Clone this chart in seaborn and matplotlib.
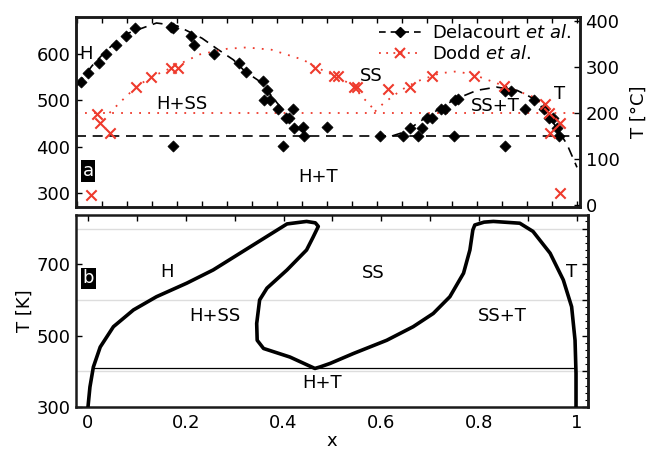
import matplotlib
matplotlib.use("Agg")
import matplotlib.pyplot as plt
from matplotlib.lines import Line2D
from matplotlib.ticker import MultipleLocator
import numpy as np
import pandas as pd
import seaborn as sns

# ---------------- data ----------------
# Panel a: Delacourt et al. measurements (x, T in K)
del_x = [0.008, 0.021, 0.043, 0.057, 0.077, 0.098, 0.115, 0.187, 0.191, 0.227,
         0.233, 0.274, 0.324, 0.338, 0.371, 0.379, 0.374, 0.385, 0.401, 0.417,
         0.423, 0.431, 0.433, 0.451, 0.454, 0.411, 0.191, 0.500, 0.605, 0.651,
         0.666, 0.681, 0.689, 0.699, 0.709, 0.727, 0.736, 0.756, 0.761, 0.753,
         0.856, 0.867, 0.856, 0.896, 0.913, 0.934, 0.943, 0.951, 0.959, 0.963]
del_T = [540, 560, 582, 600, 620, 640, 658, 660, 657, 640,
         620, 600, 581, 561, 542, 523, 501, 501, 481, 462,
         462, 481, 441, 443, 422, 401, 401, 442, 422, 422,
         441, 422, 441, 462, 462, 481, 481, 501, 503, 422,
         521, 521, 401, 481, 501, 481, 462, 462, 441, 422]

# Delacourt et al. boundary curves (dashed)
del_left_x = [0.0, 0.03, 0.06, 0.10, 0.159, 0.20, 0.25, 0.28, 0.313, 0.336, 0.366, 0.40, 0.43, 0.446, 0.46]
del_left_T = [532, 575, 610, 645, 668, 662, 635, 612, 588, 563, 541, 495, 455, 436, 423]
del_right_x = [0.63, 0.656, 0.70, 0.753, 0.80, 0.839, 0.88, 0.919, 0.953, 0.98, 1.0]
del_right_T = [423, 432, 465, 501, 522, 529, 522, 501, 451, 405, 355]
del_eutectoid_T = 423

# Dodd et al. measurements
dodd_x = [0.039, 0.045, 0.065, 0.118, 0.147, 0.187, 0.201, 0.476, 0.513, 0.522,
          0.553, 0.559, 0.621, 0.665, 0.709, 0.793, 0.853, 0.936, 0.943, 0.946,
          0.965, 0.028, 0.966]
dodd_T = [470, 451, 429, 529, 550, 570, 570, 570, 552, 552,
          530, 529, 524, 530, 552, 552, 532, 493, 472, 429,
          451, 295, 299]

# Dodd et al. boundary curves (dotted)
dodd_left_x = [0.065, 0.09, 0.118, 0.147, 0.187, 0.246, 0.30, 0.339, 0.389, 0.453, 0.476, 0.519, 0.556, 0.569, 0.583, 0.596]
dodd_left_T = [473, 500, 529, 550, 570, 600, 612, 615, 610, 588, 573, 552, 530, 508, 495, 476]
dodd_right_x = [0.596, 0.613, 0.649, 0.679, 0.726, 0.759, 0.793, 0.853, 0.912, 0.933, 0.948]
dodd_right_T = [476, 494, 523, 541, 559, 563, 556, 532, 508, 490, 473]
dodd_eutectoid_T = 473

# Panel b: computed phase diagram boundary (one continuous path)
calc_x = [0.0, 0.004, 0.011, 0.025, 0.052, 0.093, 0.14, 0.202, 0.256, 0.311,
          0.366, 0.407, 0.447, 0.465, 0.471, 0.46, 0.447, 0.407, 0.366, 0.351,
          0.345, 0.346, 0.359, 0.413, 0.464, 0.474, 0.495, 0.543, 0.611, 0.665,
          0.706, 0.74, 0.768, 0.781, 0.787, 0.791, 0.81, 0.829, 0.883, 0.91,
          0.945, 0.972, 0.989, 0.996, 0.998, 0.998]
calc_T = [300, 356, 412, 468, 525, 572, 609, 647, 684, 731,
          778, 813, 820, 816, 806, 775, 740, 684, 633, 600,
          534, 487, 464, 440, 408, 412, 422, 450, 487, 525,
          562, 609, 675, 740, 796, 810, 818, 820, 815, 792,
          731, 656, 581, 487, 394, 300]
calc_eut_x = [0.011, 0.997]
calc_eut_T = [408, 408]

labels_a = ["H", "H+SS", "H+T", "SS", "SS+T", "T"]
labels_a_x = [0.018, 0.209, 0.482, 0.588, 0.836, 0.966]
labels_a_T = [600, 493, 335, 554, 489, 513]
labels_b = ["H", "H+SS", "H+T", "SS", "SS+T", "T"]
labels_b_x = [0.161, 0.26, 0.478, 0.583, 0.848, 0.988]
labels_b_T = [677, 555, 368, 675, 556, 677]

# ---------------- styling ----------------
sns.set_style("ticks")
plt.rcParams['font.family'] = ['DejaVu Sans']
plt.rcParams['font.size'] = 13
plt.rcParams['axes.linewidth'] = 1.8
plt.rcParams['axes.edgecolor'] = '#1a1a1a'
plt.rcParams['text.color'] = 'black'
plt.rcParams['axes.labelcolor'] = 'black'
plt.rcParams['xtick.color'] = 'black'
plt.rcParams['ytick.color'] = 'black'

RED = '#ee3a2c'
FS = 13

fig = plt.figure(figsize=(6.49, 4.51), dpi=100)
W, H = 649, 451
axa = fig.add_axes([76 / W, 1 - 207 / H, (580 - 76) / W, (207 - 17) / H])
axb = fig.add_axes([76 / W, 1 - 407 / H, (588 - 76) / W, (407 - 215) / H])

# ---------------- panel a ----------------
sns.lineplot(x=del_left_x, y=del_left_T, ax=axa, color='black', lw=1.2,
             linestyle=(0, (6, 4)), sort=False, estimator=None)
sns.lineplot(x=del_right_x, y=del_right_T, ax=axa, color='black', lw=1.2,
             linestyle=(0, (6, 4)), sort=False, estimator=None)
axa.axhline(del_eutectoid_T, color='black', lw=1.2, linestyle=(0, (6, 4)))
sns.lineplot(x=dodd_left_x, y=dodd_left_T, ax=axa, color=RED, lw=1.3,
             linestyle=(0, (1, 4)), sort=False, estimator=None)
sns.lineplot(x=dodd_right_x, y=dodd_right_T, ax=axa, color=RED, lw=1.3,
             linestyle=(0, (1, 4)), sort=False, estimator=None)
axa.axhline(dodd_eutectoid_T, color=RED, lw=1.3, linestyle=(0, (1, 4)))

sns.scatterplot(x=del_x, y=del_T, ax=axa, marker='D', s=32, color='black',
                edgecolor='black', linewidth=0.5, zorder=4)
sns.scatterplot(x=dodd_x, y=dodd_T, ax=axa, marker='x', s=55, color=RED,
                linewidth=1.5, zorder=5)

axa.set_xlim(-0.002, 1.006)
axa.set_ylim(269, 681)
axa.set_yticks([300, 400, 500, 600])
axa.xaxis.set_major_locator(MultipleLocator(0.05))
axa.tick_params(axis='x', which='both', top=True, bottom=True, direction='in',
                labelbottom=False, length=4, width=1)
axa.tick_params(axis='y', direction='in', length=4, width=1, labelsize=FS, pad=4)
axa.set_xlabel('')

for t, x, y in zip(labels_a, labels_a_x, labels_a_T):
    axa.text(x, y, t, ha='center', va='center', fontsize=FS)
axa.text(0.022, 347, 'a', ha='center', va='center', fontsize=FS, color='white',
         bbox=dict(facecolor='black', edgecolor='none', pad=1.2))

axa2 = axa.twinx()
axa2.set_ylim(269 - 273.15, 681 - 273.15)
axa2.set_yticks([0, 100, 200, 300, 400])
axa2.tick_params(axis='y', direction='in', length=4, width=1, labelsize=FS, pad=4)
axa2.set_ylabel('T [°C]', fontsize=FS, labelpad=7)
for s in axa2.spines.values():
    s.set_linewidth(1.8)

handles = [Line2D([], [], color='black', linestyle=(0, (4, 3)), lw=1.2, marker='D', markersize=5),
           Line2D([], [], color=RED, linestyle=(0, (1, 3)), lw=1.3, marker='x', markersize=7, markeredgewidth=1.5)]
axa.legend(handles, [r'Delacourt $\it{et\ al.}$', r'Dodd $\it{et\ al.}$'],
           loc='upper right', frameon=False, fontsize=FS, handlelength=2.3,
           handletextpad=0.6, borderaxespad=0.1, labelspacing=0.15,
           bbox_to_anchor=(1.0, 1.01))

# ---------------- panel b ----------------
for g in [400, 600, 800]:
    axb.axhline(g, color='#dddddd', lw=1.0, zorder=0)
sns.lineplot(x=calc_x, y=calc_T, ax=axb, color='black', lw=2.6, sort=False,
             estimator=None, zorder=3)
sns.lineplot(x=calc_eut_x, y=calc_eut_T, ax=axb, color='black', lw=0.9,
             sort=False, estimator=None, zorder=2)

axb.set_xlim(-0.0245, 1.0225)
axb.set_ylim(300, 838)
axb.set_xticks([0, 0.2, 0.4, 0.6, 0.8, 1.0])
axb.set_xticklabels(['0', '0.2', '0.4', '0.6', '0.8', '1'])
axb.xaxis.set_minor_locator(MultipleLocator(0.1))
axb.set_yticks([300, 500, 700])
axb.tick_params(axis='x', which='both', top=True, bottom=False, direction='in',
                length=4, width=1, labelsize=FS, pad=5)
axb.tick_params(axis='y', direction='in', length=4, width=1, labelsize=FS, pad=4)
sec = axb.secondary_yaxis('right')
sec.set_yticks([300, 400, 500, 600, 700, 800])
sec.yaxis.set_minor_locator(MultipleLocator(20))
sec.tick_params(axis='y', which='major', direction='in', length=4, width=1, labelright=False)
sec.tick_params(axis='y', which='minor', direction='in', length=2, width=0.8)
sec.spines['right'].set_linewidth(1.8)
axb.set_xlabel('x', fontsize=FS, labelpad=0)
axb.set_ylabel('T [K]', fontsize=FS, labelpad=2)

for t, x, y in zip(labels_b, labels_b_x, labels_b_T):
    axb.text(x, y, t, ha='center', va='center', fontsize=FS)
axb.text(0.001, 661, 'b', ha='center', va='center', fontsize=FS, color='white',
         bbox=dict(facecolor='black', edgecolor='none', pad=1.2))

fig.savefig('out.png', dpi=100)
